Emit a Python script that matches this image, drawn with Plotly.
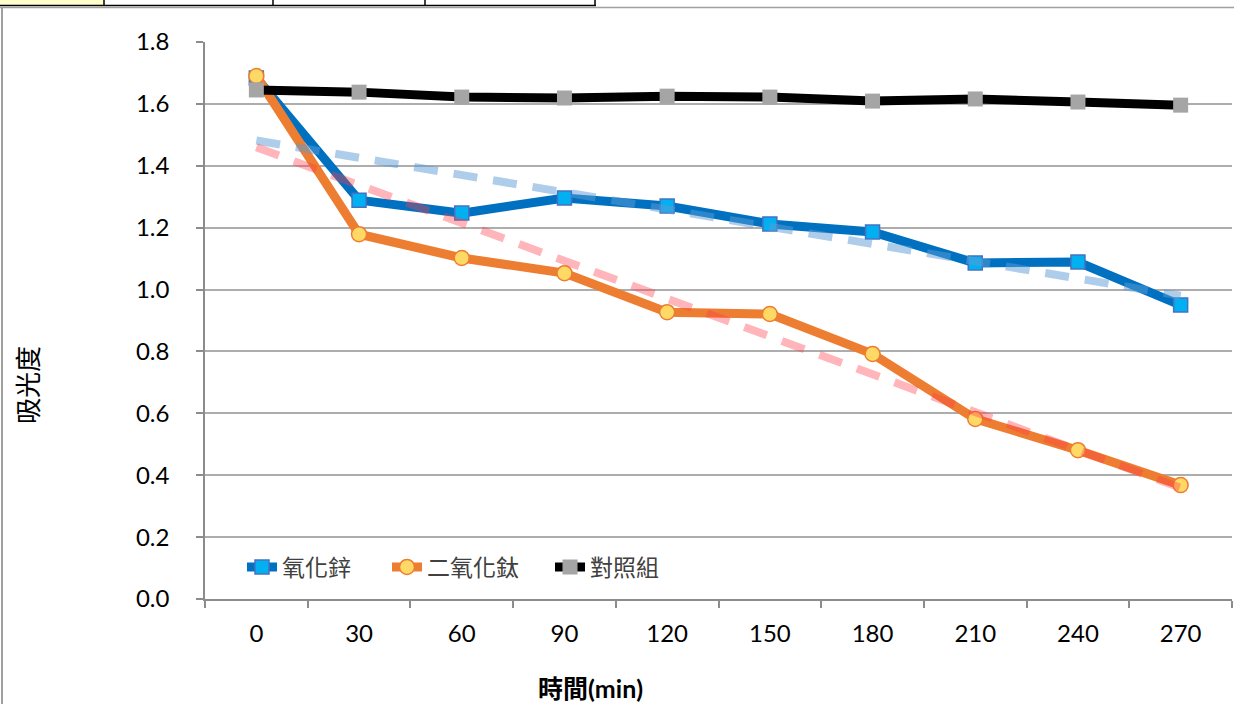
import numpy as np
import plotly.graph_objects as go

# Sampling times (min)
times = ["0", "30", "60", "90", "120", "150", "180", "210", "240", "270"]

# Absorbance readings
zno = [1.684, 1.289, 1.247, 1.296, 1.270, 1.212, 1.186, 1.086, 1.089, 0.950]
tio2 = [1.690, 1.179, 1.102, 1.053, 0.927, 0.921, 0.792, 0.582, 0.481, 0.368]
control = [1.645, 1.638, 1.622, 1.619, 1.625, 1.622, 1.609, 1.616, 1.606, 1.596]

series_names = ["氧化鋅", "二氧化鈦", "對照組"]

W, H = 1234, 704
L, R, T, B = 205, 2, 42, 105
PW, PH = W - L - R, H - T - B

FONT = "Lato, 'Noto Sans CJK TC', sans-serif"
CJK = "'Noto Sans CJK TC', sans-serif"


def px(x):
    return (x - L) / PW


def py(y):
    return (H - B - y) / PH


idx = np.arange(len(times))


def linear_trend(values):
    slope, intercept = np.polyfit(idx, values, 1)
    return list(slope * idx + intercept)


fig = go.Figure()

fig.add_trace(go.Scatter(
    x=times, y=zno, name=series_names[0], mode="lines+markers", legend="legend",
    line=dict(color="#0070C0", width=9),
    marker=dict(symbol="square", size=14, color="#00B0F0",
                line=dict(color="#4472C4", width=1.5)),
))
fig.add_trace(go.Scatter(
    x=times, y=tio2, name=series_names[1], mode="lines+markers", legend="legend2",
    line=dict(color="#ED7D31", width=9),
    marker=dict(symbol="circle", size=15, color="#FFD966",
                line=dict(color="#ED7D31", width=1.5)),
))
fig.add_trace(go.Scatter(
    x=times, y=control, name=series_names[2], mode="lines+markers", legend="legend3",
    line=dict(color="#000000", width=9),
    marker=dict(symbol="square", size=15, color="#A5A5A5",
                line=dict(color="#A5A5A5", width=0)),
))

# Linear trend lines, drawn over the data series
fig.add_trace(go.Scatter(
    x=times, y=linear_trend(zno), mode="lines", showlegend=False,
    hoverinfo="skip",
    line=dict(color="rgba(91,155,213,0.5)", width=8, dash="24px,16px"),
))
fig.add_trace(go.Scatter(
    x=times, y=linear_trend(tio2), mode="lines", showlegend=False,
    hoverinfo="skip",
    line=dict(color="rgba(255,60,70,0.38)", width=8, dash="24px,16px"),
))

shapes = [
    # spreadsheet cells above the chart
    dict(type="rect", xref="paper", yref="paper", x0=px(0), x1=px(104),
         y0=py(0), y1=py(5), fillcolor="#FFFFCC", line=dict(width=0), layer="below"),
    dict(type="line", xref="paper", yref="paper", x0=px(0), x1=px(596),
         y0=py(5.5), y1=py(5.5), line=dict(color="#000000", width=1.5)),
    # chart area border
    dict(type="line", xref="paper", yref="paper", x0=px(0), x1=px(W),
         y0=py(7.5), y1=py(7.5), line=dict(color="#A0A0A0", width=1.5)),
    dict(type="line", xref="paper", yref="paper", x0=px(2), x1=px(2),
         y0=py(7.5), y1=py(H), line=dict(color="#A0A0A0", width=2)),
]
for xc in (104, 273, 425, 595):
    shapes.append(dict(type="line", xref="paper", yref="paper", x0=px(xc), x1=px(xc),
                       y0=py(0), y1=py(6), line=dict(color="#000000", width=1.5)))

annotations = [
    dict(text="吸光度", xref="paper", yref="paper", x=px(26), y=py(385),
         xanchor="center", yanchor="middle",
         showarrow=False, textangle=-90, font=dict(family=CJK, size=26, color="#000000")),
    dict(text="<b>時間(min)</b>", xref="paper", yref="paper", x=px(590), y=py(688),
         xanchor="center", yanchor="middle",
         showarrow=False, font=dict(family=FONT, size=25, color="#000000")),
]

legend_style = dict(orientation="h", xanchor="left", yanchor="middle",
                    bgcolor="rgba(0,0,0,0)",
                    font=dict(family=CJK, size=23, color="#404040"))

fig.update_layout(
    width=W, height=H,
    margin=dict(l=L, r=R, t=T, b=B),
    paper_bgcolor="white", plot_bgcolor="white",
    font=dict(family=FONT, size=23, color="#000000"),
    showlegend=True,
    legend=dict(x=px(242), y=py(567), **legend_style),
    legend2=dict(x=px(387), y=py(567), **legend_style),
    legend3=dict(x=px(550), y=py(567), **legend_style),
    shapes=shapes,
    annotations=annotations,
)

fig.update_xaxes(
    type="category", range=[-0.5, len(times) - 0.5],
    tickson="boundaries", ticks="outside", ticklen=7, tickcolor="#8C8C8C", tickwidth=1.5,
    showline=True, linecolor="#8C8C8C", linewidth=1.5,
    showgrid=False, zeroline=False, ticklabelstandoff=12,
    tickfont=dict(family=FONT, size=24, color="#000000"),
)
fig.update_yaxes(
    range=[0, 1.8], dtick=0.2, tickformat=".1f",
    ticks="outside", ticklen=7, tickcolor="#8C8C8C", tickwidth=1.5,
    showline=True, linecolor="#8C8C8C", linewidth=1.5,
    showgrid=True, gridcolor="#ADADAD", gridwidth=1.5, zeroline=False,
    ticklabelstandoff=22,
    tickfont=dict(family=FONT, size=24, color="#000000"),
)

fig.write_html("out.html")
